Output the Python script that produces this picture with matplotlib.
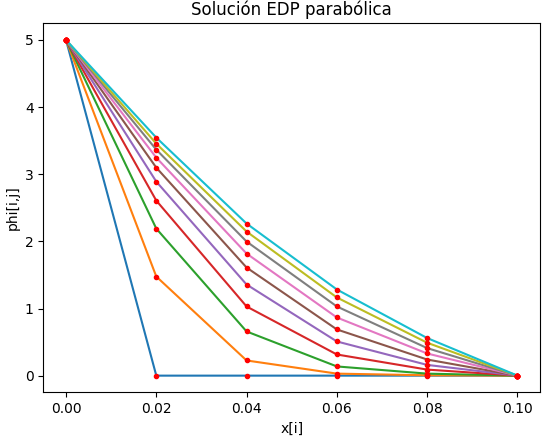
import matplotlib
matplotlib.use('Agg')
import matplotlib.pyplot as plt

# --- datos ---
x = [0.0, 0.02, 0.04, 0.06, 0.08, 0.10]

# phi[i, j] para cada paso de tiempo j
phi_0 = [5.0, 0.0, 0.0, 0.0, 0.0, 0.0]
phi_1 = [5.0, 1.476, 0.226, 0.030, 0.005, 0.0]
phi_2 = [5.0, 2.190, 0.658, 0.137, 0.030, 0.0]
phi_3 = [5.0, 2.607, 1.030, 0.315, 0.090, 0.0]
phi_4 = [5.0, 2.890, 1.357, 0.509, 0.160, 0.0]
phi_5 = [5.0, 3.098, 1.610, 0.688, 0.240, 0.0]
phi_6 = [5.0, 3.247, 1.818, 0.866, 0.330, 0.0]
phi_7 = [5.0, 3.366, 1.997, 1.030, 0.410, 0.0]
phi_8 = [5.0, 3.455, 2.146, 1.164, 0.490, 0.0]
phi_9 = [5.0, 3.545, 2.265, 1.283, 0.560, 0.0]

all_phi = [phi_0, phi_1, phi_2, phi_3, phi_4,
           phi_5, phi_6, phi_7, phi_8, phi_9]

fig = plt.figure(figsize=(5.43, 4.37), dpi=100)
ax = fig.add_subplot(111)
fig.subplots_adjust(left=0.080, right=0.9945, top=0.947, bottom=0.102)

for phi in all_phi:
    ax.plot(x, phi)
for phi in all_phi:
    ax.plot(x, phi, 'r.')

ax.set_title('Solución EDP parabólica')
ax.set_xlabel('x[i]')
ax.set_ylabel('phi[i,j]')

fig.savefig('out.png', dpi=100)
